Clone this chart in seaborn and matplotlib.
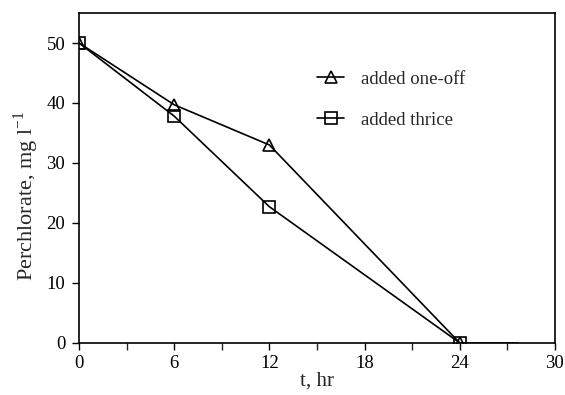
import matplotlib
matplotlib.use("Agg")
import matplotlib.pyplot as plt
import seaborn as sns
import pandas as pd
from matplotlib.ticker import MultipleLocator
from matplotlib.lines import Line2D

time_hr = [0, 6, 12, 24]
one_off = [50, 39.7, 33.0, 0]
thrice = [50, 37.8, 22.7, 0]
tail_x = [24, 27.7]
tail_y = [0, 0]
series_names = ["added one-off", "added thrice"]

df = pd.DataFrame({
    "t": time_hr * 2,
    "val": one_off + thrice,
    "series": [series_names[0]] * 4 + [series_names[1]] * 4,
})

sns.set_theme(style="ticks")
plt.rcParams["font.family"] = ["Liberation Serif", "DejaVu Serif"]
plt.rcParams["mathtext.fontset"] = "custom"
plt.rcParams["mathtext.rm"] = "Liberation Serif"

fig = plt.figure(figsize=(5.65, 3.95), dpi=100)
ax = fig.add_axes([0.14, 0.132, 0.842, 0.835])

sns.lineplot(data=df, x="t", y="val", style="series", markers=["^", "s"],
             dashes=False, color="black", linewidth=1.2, markersize=8,
             markerfacecolor="none", markeredgecolor="black", markeredgewidth=1.2,
             ax=ax, legend=False)
ax.plot(tail_x, tail_y, color="black", linewidth=1.2)

ax.set_xlim(0, 30)
ax.set_ylim(0, 55)
ax.xaxis.set_major_locator(MultipleLocator(6))
ax.xaxis.set_minor_locator(MultipleLocator(3))
ax.yaxis.set_major_locator(MultipleLocator(10))
ax.tick_params(axis="both", which="major", direction="out", length=5, width=1,
               labelsize=13.5, colors="black")
ax.tick_params(axis="y", which="major", pad=5)
ax.tick_params(axis="x", which="minor", direction="out", length=5, width=1)
for s in ax.spines.values():
    s.set_color("black")
    s.set_linewidth(1.2)
    s.set_visible(True)

ax.set_xlabel("t, hr", fontsize=15, labelpad=0)
ax.set_ylabel("Perchlorate, mg l$^{\\mathregular{-1}}$", fontsize=16)
ax.yaxis.set_label_coords(-0.08, 0.445)

handles = [Line2D([], [], color="black", marker=m, markersize=8, markerfacecolor="none",
                  markeredgewidth=1.2, linewidth=1.2) for m in ["^", "s"]]
ax.legend(handles, series_names, loc="upper left", bbox_to_anchor=(0.50, 0.825),
          frameon=False, fontsize=13.5, handlelength=1.45, labelspacing=1.27,
          handletextpad=0.9, borderaxespad=0, borderpad=0)

fig.savefig("out.png", dpi=100)
